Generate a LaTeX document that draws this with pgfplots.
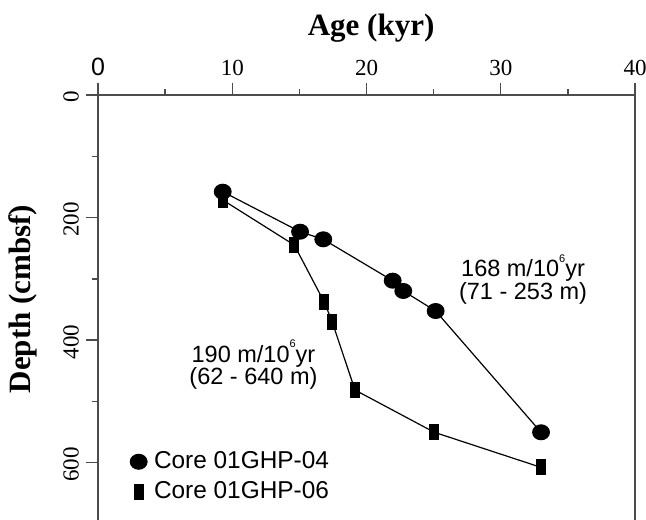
\documentclass[border=0pt]{standalone}
\usepackage{fontspec}
\setmainfont{Liberation Serif}
\newfontfamily\arial{Liberation Sans}
\usepackage{pgfplots}
\pgfplotsset{compat=1.18}

% small raised exponent as in the original figure
\newcommand{\sixsup}{\raisebox{0.62em}{\fontsize{5.5}{5.5}\selectfont 6}}

\begin{document}
\begin{tikzpicture}
\begin{axis}[
  scale only axis,
  width=268.5pt, height=212.95pt,
  xmin=0, xmax=40, ymin=0, ymax=695,
  y dir=reverse,
  xtick={0,10,20,30,40},
  xticklabels={{\arial\fontsize{12.5}{12.5}\selectfont 0},10,20,30,40},
  minor xtick={5,15,25,35},
  ytick={0,200,400,600},
  yticklabels={0,200,400,600},
  minor ytick={100,300,500},
  tick align=outside,
  xtick pos=right, ytick pos=left,
  xticklabel pos=right, yticklabel pos=left,
  major tick length=6pt, minor tick length=3pt,
  every tick/.append style={black!70, line width=0.7pt},
  axis line style={black!70, line width=0.75pt},
  xticklabel style={font=\fontsize{11.5}{11.5}\selectfont},
  yticklabel style={font=\fontsize{11.5}{11.5}\selectfont, rotate=90, anchor=south, xshift=-1pt},
  xlabel={Age (kyr)},
  xlabel style={at={(axis cs:20.34,-109.3)}, anchor=center,
    font=\bfseries\fontsize{15.5}{15.5}\selectfont},
  ylabel={Depth (cmbsf)},
  ylabel style={at={(axis cs:-5.59,332.9)}, anchor=center, rotate=0,
    font=\bfseries\fontsize{15.5}{15.5}\selectfont},
  legend style={at={(axis cs:2.38,623)}, anchor=west, draw=none, fill=none,
    font=\arial\fontsize{12.2}{12.2}\selectfont, inner sep=0pt,
    row sep=4pt, column sep=3pt, nodes={inner sep=0.5pt}},
  legend cell align=left,
  legend image code/.code={\draw[#1,only marks] plot coordinates {(0cm,0cm)};},
  clip=false,
]
\addplot[black, line width=0.6pt, mark=*, mark size=3.7pt,
  mark options={xscale=1.125, fill=black}] coordinates {
  (9.29,157.8) (15.05,223.1) (16.78,235.5) (21.95,303.0)
  (22.74,319.8) (25.15,352.5) (33.0,550.4)
};
\addlegendentry{Core 01GHP-04}
\addplot[black, line width=0.6pt, mark=square*, mark size=3.7pt,
  mark options={xscale=0.6, fill=black}] coordinates {
  (9.29,171.3) (14.62,244.8) (16.86,338.3) (17.45,370.4)
  (19.14,481.4) (25.05,550.4) (32.98,607.5)
};
\addlegendentry{Core 01GHP-06}

\node[font=\arial\fontsize{11.75}{11.2}\selectfont, align=center]
  at (axis cs:31.66,301) {168 m/10\sixsup yr\\(71 - 253 m)};
\node[font=\arial\fontsize{11.75}{11.2}\selectfont, align=center]
  at (axis cs:11.58,439.8) {190 m/10\sixsup yr\\(62 - 640 m)};

\coordinate (O) at (axis cs:0,0);
\end{axis}
\pgfresetboundingbox
\path[use as bounding box] ([shift={(-49pt,47.5pt)}]O) rectangle ([shift={(274pt,-212pt)}]O);
\end{tikzpicture}
\end{document}
